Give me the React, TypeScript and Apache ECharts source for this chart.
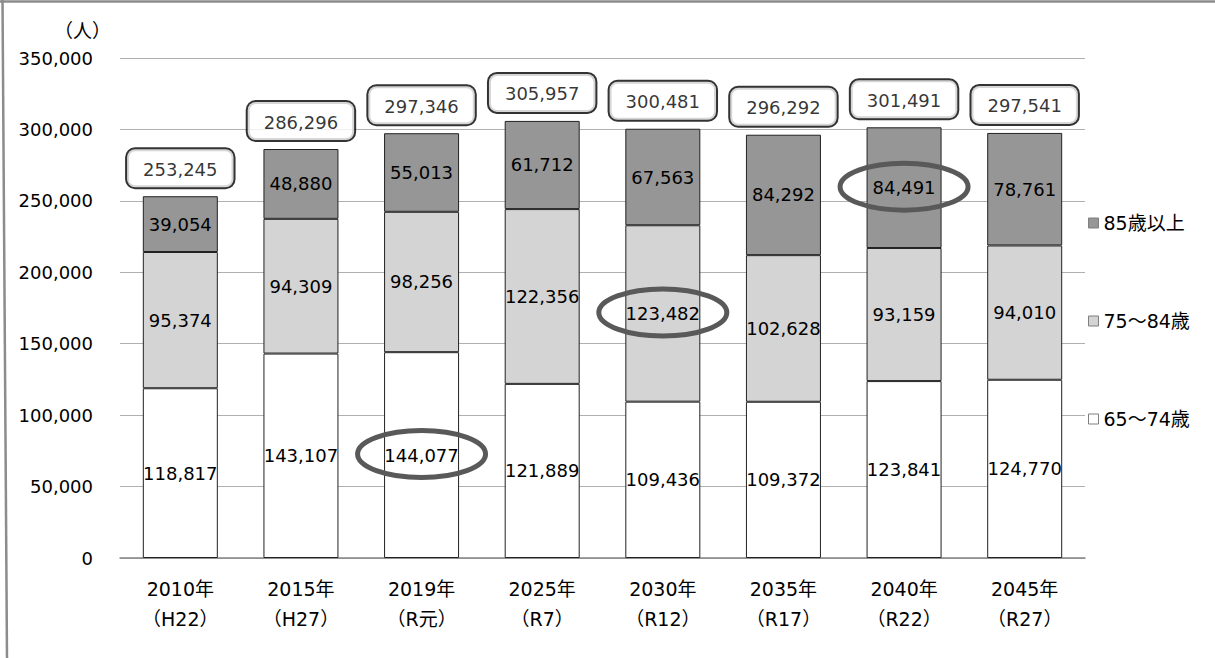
import React, { useEffect, useRef } from "react";
import * as echarts from "echarts";

const categories = [
  "2010年\n（H22）",
  "2015年\n（H27）",
  "2019年\n（R元）",
  "2025年\n（R7）",
  "2030年\n（R12）",
  "2035年\n（R17）",
  "2040年\n（R22）",
  "2045年\n（R27）",
];
const seriesNames = ["65～74歳", "75～84歳", "85歳以上"];
const age65to74 = [118817, 143107, 144077, 121889, 109436, 109372, 123841, 124770];
const age75to84 = [95374, 94309, 98256, 122356, 123482, 102628, 93159, 94010];
const age85plus = [39054, 48880, 55013, 61712, 67563, 84292, 84491, 78761];
const totals = [253245, 286296, 297346, 305957, 300481, 296292, 301491, 297541];
const yTicks = { min: 0, max: 350000, interval: 50000 };
const unitLabel = "（人）";
// highlighted (circled) values: series index, category index
const highlights = [
  { series: 0, category: 2 },
  { series: 1, category: 4 },
  { series: 2, category: 6 },
];

const FONT = '"DejaVu Sans", "Noto Sans CJK JP", sans-serif';
const colors = ["#ffffff", "#d4d4d4", "#969696"];
const seriesData = [age65to74, age75to84, age85plus];

const fmt = (v: number) => v.toLocaleString("en-US");

export default function App() {
  const ref = useRef<HTMLDivElement>(null);
  useEffect(() => {
    if (!ref.current) return;
    const chart = echarts.init(ref.current, null, { renderer: "svg" });
    const barSeries = seriesNames.map((name, si) => ({
      name,
      type: "bar",
      stack: "total",
      barWidth: 75,
      data: seriesData[si],
      itemStyle: { color: colors[si], borderColor: "#222", borderWidth: 1 },
      label: {
        show: true,
        position: "inside",
        color: "#000",
        fontSize: 18,
        fontFamily: FONT,
        formatter: (p: any) => fmt(p.value),
      },
      emphasis: { disabled: true },
    }));
    const option: any = {
      animation: false,
      textStyle: { fontFamily: FONT },
      title: {
        text: unitLabel,
        left: 54,
        top: 21,
        padding: 0,
        textStyle: { fontSize: 19, fontWeight: "normal", color: "#000", fontFamily: FONT },
      },
      grid: { left: 120, right: 130, top: 58, bottom: 100 },
      legend: {
        orient: "vertical",
        left: 1088,
        top: 213,
        padding: 0,
        itemGap: 78,
        itemWidth: 10,
        itemHeight: 10,
        icon: "rect",
        itemStyle: { borderColor: "#7f7f7f", borderWidth: 1 },
        textStyle: { fontSize: 19, color: "#000", fontFamily: FONT, lineHeight: 20 },
        data: [seriesNames[2], seriesNames[1], seriesNames[0]],
        selectedMode: false,
      },
      xAxis: {
        type: "category",
        data: categories,
        axisLine: { show: true, lineStyle: { color: "#868686", width: 1.5 } },
        axisTick: { show: false },
        axisLabel: {
          color: "#000",
          fontSize: 19,
          lineHeight: 30,
          margin: 16,
          fontFamily: FONT,
        },
      },
      yAxis: {
        type: "value",
        min: yTicks.min,
        max: yTicks.max,
        interval: yTicks.interval,
        axisLine: { show: false },
        axisTick: { show: false },
        splitLine: { lineStyle: { color: "#b0b0b0", width: 1.2 } },
        axisLabel: {
          color: "#000",
          fontSize: 18,
          margin: 27,
          fontFamily: FONT,
          formatter: (v: number) => fmt(v),
        },
      },
      series: [
        ...barSeries,
        {
          name: "合計",
          type: "scatter",
          symbolSize: 0,
          data: totals.map((t, i) => [i, t]),
          z: 10,
          label: {
            show: true,
            position: "top",
            distance: 9,
            color: "#000",
            fontSize: 18,
            fontFamily: FONT,
            backgroundColor: "#fff",
            borderColor: "#000",
            borderWidth: 2,
            borderRadius: 8,
            padding: [11, 16, 9, 16],
            formatter: (p: any) => fmt(p.value[1]),
          },
          emphasis: { disabled: true },
        },
      ],
    };
    chart.setOption(option);

    const ellipses = highlights.map((h) => {
      let base = 0;
      for (let k = 0; k < h.series; k++) base += seriesData[k][h.category];
      const v = seriesData[h.series][h.category];
      const pt = chart.convertToPixel({ gridIndex: 0 } as any, [h.category, base + v / 2]) as number[];
      return {
        type: "ellipse",
        z: 100,
        silent: true,
        shape: { cx: pt[0], cy: pt[1] - 1, rx: 64, ry: 23.5 },
        style: { fill: "none", stroke: "#595959", lineWidth: 5 },
      };
    });
    chart.setOption({
      graphic: [
        {
          type: "line",
          silent: true,
          shape: { x1: 0, y1: 1.5, x2: 1215, y2: 1.5 },
          style: { stroke: "#8c8c8c", lineWidth: 2.5 },
        },
        {
          type: "line",
          silent: true,
          shape: { x1: 2.5, y1: 0, x2: 7, y2: 658 },
          style: { stroke: "#8c8c8c", lineWidth: 2.5 },
        },
        ...ellipses,
      ],
    });
    return () => chart.dispose();
  }, []);
  return (
    <div
      ref={ref}
      style={{ position: "fixed", left: 0, top: 0, width: 1215, height: 658, background: "#fff" }}
    />
  );
}
